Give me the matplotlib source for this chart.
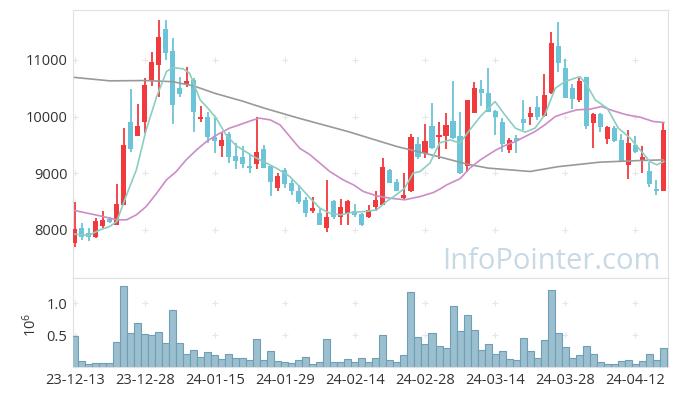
import matplotlib
matplotlib.use("Agg")
import matplotlib.pyplot as plt
import numpy as np

plt.rcParams['font.family'] = ['Open Sans', 'DejaVu Sans']
plt.rcParams['mathtext.fontset'] = 'custom'
plt.rcParams['mathtext.rm'] = 'Open Sans'
plt.rcParams['mathtext.it'] = 'Open Sans'

# --- daily candles (index = trading day) ---
opens = [7770, 8030, 7941, 7865, 8071, 8194, 8088, 8441, 9906, 9665,
         9912, 10647, 10912, 11547, 11159, 10500, 10577, 10647, 9953, 10000,
         9647, 9488, 9694, 9306, 9294, 9130, 9165, 9430, 9118, 8747,
         9059, 8824, 8694, 8518, 8324, 8294, 8041, 8512, 8218, 8306,
         8335, 8282, 8224, 8400, 8430, 9059, 8847, 8570, 8677, 9512,
         9353, 9835, 9636, 9659, 9924, 9659, 9130, 10071, 10483, 10424,
         10100, 9912, 9412, 9618, 9960, 9988, 10165, 10012, 10412, 11247,
         10853, 10500, 10294, 10694, 9883, 10041, 9600, 9794, 9588, 9147,
         9500, 9224, 9041, 8712, 8694]
highs = [8494, 8118, 8030, 8206, 8324, 8235, 8812, 9795, 10483, 10220,
         10677, 11136, 11706, 11706, 11383, 10706, 10871, 10677, 10188, 10088,
         9971, 9718, 9735, 9541, 9471, 9341, 9989, 9500, 9147, 9012,
         9088, 8880, 8794, 8588, 8577, 8383, 8883, 8530, 8547, 8530,
         8459, 8300, 8441, 8677, 9265, 9070, 8894, 9000, 9694, 9636,
         9871, 10247, 9906, 10059, 10635, 10088, 10294, 10618, 10647, 10853,
         10120, 9980, 9624, 9677, 10294, 10177, 10365, 10747, 11494, 11676,
         11012, 10577, 10677, 10700, 10059, 10060, 9835, 9830, 9694, 9765,
         9659, 9483, 9206, 8871, 9894]
lows = [7700, 7823, 7806, 7860, 8030, 8120, 8080, 8430, 9382, 9660,
        9718, 10541, 10341, 11000, 9865, 10341, 10529, 9724, 9912, 9530,
        9353, 9294, 9188, 9071, 9088, 9000, 9071, 9090, 8606, 8694,
        8735, 8620, 8459, 8235, 8306, 8080, 7959, 8200, 8088, 8083,
        8230, 8060, 8215, 8324, 8430, 8820, 8680, 8518, 8670, 9247,
        9265, 9430, 9247, 9424, 9600, 8990, 9024, 10060, 10188, 10080,
        9677, 9382, 9353, 9353, 9765, 9853, 9930, 10000, 10400, 10794,
        10320, 10135, 10265, 9777, 9453, 9735, 9518, 9550, 9190, 8894,
        9360, 9000, 8753, 8618, 8690]
closes = [8018, 7882, 7865, 8159, 8177, 8147, 8459, 9500, 9435, 9824,
          10559, 10971, 11412, 11130, 10206, 10400, 10635, 10088, 10000, 9636,
          9576, 9588, 9294, 9218, 9165, 9094, 9377, 9100, 8853, 8953,
          8806, 8677, 8500, 8306, 8377, 8088, 8235, 8224, 8400, 8512,
          8265, 8077, 8353, 8530, 9106, 8835, 8694, 8618, 9636, 9294,
          9571, 9441, 9671, 9853, 9618, 9000, 10294, 10500, 10412, 10088,
          9989, 9518, 9588, 9576, 9894, 10071, 10000, 10383, 11306, 10953,
          10335, 10306, 10635, 9824, 10041, 9812, 9812, 9576, 9206, 9530,
          9382, 9277, 8806, 8694, 9765]
volumes = [0.49, 0.098, 0.047, 0.062, 0.062, 0.062, 0.395, 1.27, 0.536, 0.69,
           0.52, 0.505, 0.55, 0.38, 0.895, 0.38, 0.208, 0.27, 0.16, 0.24,
           0.19, 0.13, 0.208, 0.145, 0.145, 0.114, 0.44, 0.114, 0.255, 0.098,
           0.083, 0.067, 0.114, 0.16, 0.052, 0.083, 0.44, 0.083, 0.083, 0.125,
           0.083, 0.14, 0.083, 0.14, 0.5, 0.114, 0.083, 0.187, 1.177, 0.47,
           0.364, 0.536, 0.333, 0.30, 0.958, 0.567, 0.817, 0.583, 0.27, 0.364,
           0.208, 0.255, 0.13, 0.114, 0.458, 0.255, 0.145, 0.427, 1.208, 0.536,
           0.317, 0.145, 0.19, 0.333, 0.208, 0.083, 0.052, 0.052, 0.098, 0.114,
           0.052, 0.098, 0.208, 0.114, 0.30]  # millions

# moving averages (index, value)
ma_short_x = [0, 2, 3.6, 5, 6, 7.4, 8.8, 10.2, 11.7, 13.1, 14, 15.5, 16.4, 17.9, 19,
              20.2, 21.6, 23, 25.5, 26.9, 28.8, 30.7, 32.1, 33.6, 35, 36.4, 37.9,
              39.8, 41.6, 43.1, 44.5, 45.9, 47.1, 48.3, 49.3, 50.7, 52.1, 53.6, 55,
              56.4, 57.9, 60, 61.4, 62.9, 64.3, 65.7, 67.1, 68.6, 70, 72.1, 73.1,
              74.3, 76, 77.6, 79.3, 80.7, 82.1, 83.1, 84.1]
ma_short_y = [7924, 7900, 8000, 8059, 8147, 8618, 9059, 9765, 10353, 10794, 10865,
              10841, 10765, 10294, 10148, 9971, 9677, 9490, 9294, 9206, 9088, 8941,
              8765, 8560, 8383, 8294, 8265, 8312, 8324, 8353, 8500, 8618, 8735, 9000,
              9030, 9177, 9535, 9588, 9530, 9765, 10000, 10265, 10030, 9795, 9724,
              9795, 10030, 10500, 10618, 10706, 10559, 10294, 10148, 9795, 9618,
              9412, 9206, 9147, 9206]
ma_mid_x = [0, 3.6, 6, 7.4, 8.8, 10.2, 11.7, 13.1, 14.5, 15.9, 17.4, 18.8, 20.2,
            22.1, 23.3, 25.5, 26.4, 27.9, 29.3, 30.7, 32.1, 33.6, 35, 36.4, 38.3,
            39.8, 41.2, 43.1, 45, 47.1, 49.3, 51.2, 52.1, 53.1, 55, 56.4, 57.9, 60,
            61.4, 62.9, 64.3, 65.7, 67.1, 68.6, 70, 71.7, 73.6, 75.2, 76.9, 78.8,
            80.7, 82.6, 84.1]
ma_mid_y = [8341, 8247, 8177, 8177, 8265, 8412, 8647, 8883, 9030, 9235, 9412, 9559,
            9670, 9795, 9845, 9941, 9971, 9941, 9853, 9647, 9441, 9324, 9177, 9030,
            8883, 8794, 8677, 8600, 8559, 8530, 8588, 8659, 8718, 8794, 8903, 9088,
            9235, 9400, 9488, 9559, 9647, 9735, 9853, 10000, 10059, 10118, 10130,
            10177, 10100, 10030, 9989, 9912, 9894]
ma_long_x = [0, 5, 10, 14, 17, 20, 24, 27, 32, 39, 46, 49, 52, 56, 59, 65, 69, 75, 81, 84]
ma_long_y = [10690, 10630, 10635, 10615, 10540, 10410, 10270, 10150, 9970, 9735,
             9470, 9380, 9290, 9160, 9090, 9030, 9115, 9195, 9225, 9235]

tick_labels = ["23-12-13", "23-12-28", "24-01-15", "24-01-29", "24-02-14",
               "24-02-28", "24-03-14", "24-03-28", "24-04-12"]

UP = '#f03a3e'
DOWN = '#6cc4d8'

idx = np.arange(len(closes))
o = np.array(opens); c = np.array(closes)
colors = [UP if cc >= oo else DOWN for oo, cc in zip(o, c)]

fig = plt.figure(figsize=(6.77, 3.96), dpi=100)
ax = fig.add_axes([0.1078, 0.298, 0.8785, 0.6767])
axv = fig.add_axes([0.1078, 0.0725, 0.8785, 0.2255], sharex=ax)

# wicks + bodies (tiny bodies get a minimum height so they stay visible)
ax.vlines(idx, lows, highs, colors=colors, linewidth=1.3, zorder=2)
small = np.abs(c - o) < 25
body = np.where(small, 25, c - o)
ax.bar(idx, body, bottom=np.where(small, np.minimum(o, c) - 5, o),
       width=0.72, color=colors, linewidth=0, zorder=3)

ax.plot(ma_long_x, ma_long_y, color='#999999', lw=1.2, zorder=4)
ax.plot(ma_mid_x, ma_mid_y, color='#cc8cc6', lw=1.2, zorder=4)
ax.plot(ma_short_x, ma_short_y, color='#8ccdc2', lw=1.2, zorder=4)

ax.set_xlim(-0.25, 84.65)
ax.set_ylim(7150, 11880)
ax.set_yticks([8000, 9000, 10000, 11000])
ax.tick_params(labelbottom=False)

axv.bar(idx, volumes, width=1.0, color='#9bbfcf', edgecolor='#6f9fb6', linewidth=0.8, zorder=3)
axv.set_ylim(0, 1.39)
axv.set_yticks([0.5, 1.0])
axv.set_yticklabels(['0.5', '1.0'])
axv.set_xticks(np.arange(0, 81, 10))
axv.set_xticklabels(tick_labels)

for a in (ax, axv):
    for s in a.spines.values():
        s.set_color('#e0e0e0')
    a.tick_params(length=0, labelsize=10.5, colors='#333333', pad=4)
    xs, ys = np.meshgrid(a.get_xticks(), a.get_yticks())
    a.scatter(xs.ravel(), ys.ravel(), marker='+', s=25, color='#e6e6e6', lw=0.8, zorder=1)

fig.text(0.045, 0.18, r'$\mathrm{10^6}$', rotation=90, ha='center', va='center',
         fontsize=10.5, color='#333333')

ax.text(0.988, 0.035, 'InfoPointer.com', transform=ax.transAxes, ha='right',
        va='baseline', fontsize=21, color='#c6d9e5', zorder=0)

fig.savefig('out.png', dpi=100)
